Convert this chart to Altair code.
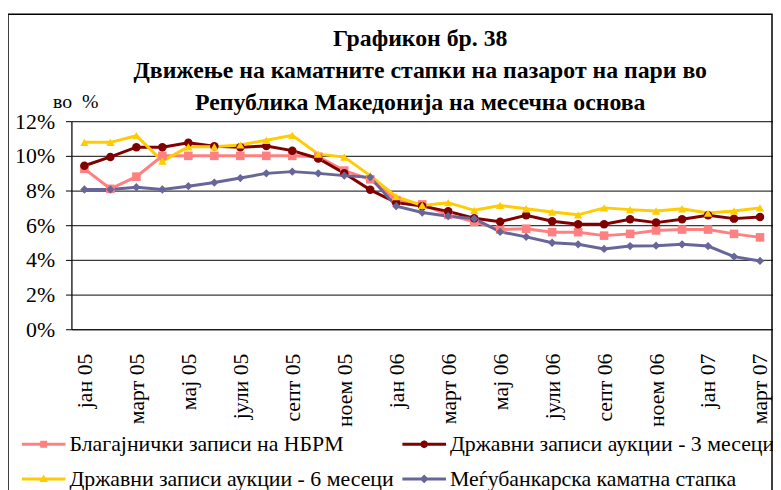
import altair as alt
import pandas as pd

months = ["јан 05", "фев 05", "март 05", "апр 05", "мај 05", "јуни 05", "јули 05",
          "авг 05", "септ 05", "окт 05", "ноем 05", "дек 05",
          "јан 06", "фев 06", "март 06", "апр 06", "мај 06", "јуни 06", "јули 06",
          "авг 06", "септ 06", "окт 06", "ноем 06", "дек 06",
          "јан 07", "фев 07", "март 07"]
shown_months = months[::2]

series_names = ["Благајнички записи на НБРМ",
                "Државни записи аукции - 3 месеци",
                "Државни записи аукции - 6 месеци",
                "Меѓубанкарска каматна стапка"]

nbrm_bills = [9.25, 8.1, 8.8, 10.0, 10.0, 10.0, 10.0, 10.0, 10.0, 9.95, 9.15, 8.65,
              7.45, 7.2, 6.6, 6.2, 5.75, 5.8, 5.6, 5.6, 5.4, 5.5, 5.7, 5.75,
              5.75, 5.5, 5.3]
tbills_3m = [9.43, 9.94, 10.5, 10.5, 10.75, 10.55, 10.5, 10.57, 10.3, 9.85, 9.0, 8.04,
             7.3, 7.1, 6.8, 6.4, 6.2, 6.57, 6.23, 6.06, 6.06, 6.34, 6.15, 6.34,
             6.57, 6.38, 6.48]
tbills_6m = [10.78, 10.78, 11.16, 9.7, 10.52, 10.52, 10.63, 10.9, 11.18, 10.1, 9.93, 8.86,
             7.65, 7.14, 7.3, 6.86, 7.14, 6.95, 6.76, 6.6, 7.0, 6.9, 6.82, 6.95,
             6.7, 6.82, 7.0]
interbank = [8.06, 8.06, 8.19, 8.06, 8.25, 8.46, 8.72, 8.99, 9.09, 8.99, 8.86, 8.76,
             7.1, 6.73, 6.52, 6.38, 5.62, 5.33, 4.99, 4.9, 4.63, 4.8, 4.82, 4.9,
             4.8, 4.19, 3.94]

colors = ["#FF8080", "#800000", "#FFCC00", "#666699"]
shapes = ["square", "circle", "triangle-up", "diamond"]
sizes = [75, 70, 110, 95]

# legend glyphs: line segment + small marker (unit = 5px)
line_seg = "M-1,-0.3H7.8V0.3H-1Z"
legend_shapes = [
    line_seg + "M2.7,-0.7H4.1V0.7H2.7Z",
    line_seg + "M3.4,-0.8L3.966,-0.566L4.2,0L3.966,0.566L3.4,0.8L2.834,0.566L2.6,0L2.834,-0.566Z",
    line_seg + "M3.4,-0.9L4.25,0.65H2.55Z",
    line_seg + "M3.4,-0.9L4.3,0L3.4,0.9L2.5,0Z",
]

rows = []
for name, vals in zip(series_names, [nbrm_bills, tbills_3m, tbills_6m, interbank]):
    for i, (m, v) in enumerate(zip(months, vals)):
        rows.append({"series": name, "month": m, "idx": i, "value": v})
df = pd.DataFrame(rows)

FONT = "'Liberation Serif', 'Times New Roman', Times, serif"

x_enc = alt.X("month:N", scale=alt.Scale(type="point", domain=months, padding=0.5),
              axis=alt.Axis(values=shown_months, labelAngle=270, ticks=False,
                            labelPadding=24, labelFontSize=22, labelFont=FONT,
                            labelColor="black", domainColor="black", domainWidth=1.2,
                            grid=False, title=None))
y_enc = alt.Y("value:Q", scale=alt.Scale(domain=[0, 12], nice=False),
              axis=alt.Axis(values=[0, 2, 4, 6, 8, 10, 12], labelExpr="datum.value + '%'",
                            labelFontSize=22, labelFont=FONT, labelColor="black",
                            labelPadding=11, tickSize=6, tickColor="black",
                            domainColor="black", domainWidth=1.2,
                            grid=True, gridColor="#3a3a3a", gridWidth=1.2,
                            title="во\u00a0 %", titleAngle=0, titleAlign="left",
                            titleBaseline="middle", titleX=-19, titleY=-20,
                            titleFont=FONT, titleFontSize=20, titleFontWeight="normal",
                            titleColor="black"))

color_scale = alt.Scale(domain=series_names, range=colors)

lines = alt.Chart(df).mark_line(strokeWidth=3).encode(
    x=x_enc, y=y_enc,
    color=alt.Color("series:N", scale=color_scale, legend=None),
    order="idx:Q",
)

points = alt.Chart(df).mark_point(filled=True, opacity=1).encode(
    x=x_enc, y=y_enc,
    color=alt.Color("series:N", scale=color_scale, legend=None),
    shape=alt.Shape("series:N", scale=alt.Scale(domain=series_names, range=shapes), legend=None),
    size=alt.Size("series:N", scale=alt.Scale(domain=series_names, range=sizes), legend=None),
)

legend_props = dict(title=None, orient="none", legendX=-56, legendY=315,
                    direction="horizontal", columns=2, columnPadding=2, rowPadding=13,
                    symbolSize=100, symbolOpacity=1, symbolStrokeWidth=0,
                    labelOffset=32, labelFont=FONT, labelFontSize=22,
                    labelColor="black", labelLimit=400, padding=0)

legend_layer = alt.Chart(df).mark_point(filled=True, opacity=0).encode(
    x=x_enc, y=y_enc,
    color=alt.Color("series:N", scale=color_scale, legend=alt.Legend(**legend_props)),
    shape=alt.Shape("series:N", scale=alt.Scale(domain=series_names, range=legend_shapes),
                    legend=alt.Legend(**legend_props)),
)

frame = alt.Chart(alt.Data(values=[{}])).mark_rect(
    fill=None, stroke="black", strokeWidth=1.5
).encode(x=alt.value(-64), x2=alt.value(707), y=alt.value(-108), y2=alt.value(380))

chart = alt.layer(frame, lines, points, legend_layer).resolve_scale(
    color="independent", shape="independent", size="independent"
).properties(
    width=708, height=210,
    title=alt.TitleParams(
        text=["Графикон бр. 38",
              "Движење на каматните стапки на пазарот на пари во",
              "Република Македонија на месечна основа"],
        font=FONT, fontSize=24, fontWeight="bold", color="black",
        anchor="middle", lineHeight=32, offset=-102, dx=-2),
    autosize=alt.AutoSizeParams(type="none"),
    padding={"left": 64, "top": 112, "right": 0, "bottom": 160},
).configure_view(stroke=None).configure(background="white")

chart.save("out.html", embed_options={"renderer": "svg", "actions": False})
